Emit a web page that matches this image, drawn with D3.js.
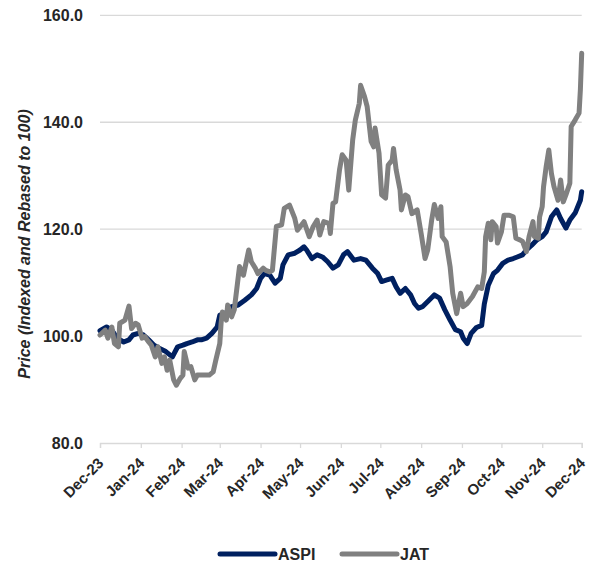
<!DOCTYPE html>
<html><head><meta charset="utf-8">
<script src="https://cdn.jsdelivr.net/npm/d3@7"></script>
<style>
body{margin:0;background:#fff;}
svg{display:block;font-family:"Liberation Sans",Arial,sans-serif;}
</style>
</head><body>
<svg id="c" width="590" height="564"></svg>
<script>
const seriesNames = ["ASPI", "JAT"];
const seriesColors = ["#002060", "#808080"];
const yTicks = [80, 100, 120, 140, 160];
const yTitle = "Price (Indexed and Rebased to 100)";
const xStart = "2023-12-01", xEnd = "2024-12-01";

const aspiDates = ["2023-12-01","2023-12-06","2023-12-10","2023-12-14","2023-12-19","2023-12-23","2023-12-26","2023-12-30",
"2024-01-03","2024-01-07","2024-01-11","2024-01-15","2024-01-20","2024-01-25","2024-01-29",
"2024-02-02","2024-02-05","2024-02-09","2024-02-13","2024-02-16","2024-02-20","2024-02-24","2024-02-28",
"2024-03-01","2024-03-05","2024-03-10","2024-03-15","2024-03-20","2024-03-25","2024-03-29",
"2024-04-01","2024-04-04","2024-04-08","2024-04-12","2024-04-16","2024-04-18","2024-04-22","2024-04-27",
"2024-05-01","2024-05-04","2024-05-06","2024-05-10","2024-05-14","2024-05-18","2024-05-22","2024-05-26","2024-05-30",
"2024-06-03","2024-06-06","2024-06-11","2024-06-16","2024-06-20","2024-06-25","2024-06-29",
"2024-07-02","2024-07-06","2024-07-10","2024-07-13","2024-07-16","2024-07-20","2024-07-24","2024-07-27","2024-07-30",
"2024-08-02","2024-08-07","2024-08-11","2024-08-15","2024-08-19","2024-08-23","2024-08-27","2024-08-31",
"2024-09-02","2024-09-05","2024-09-08","2024-09-12","2024-09-16","2024-09-18","2024-09-21","2024-09-25","2024-09-28",
"2024-10-02","2024-10-06","2024-10-10","2024-10-13","2024-10-17","2024-10-20","2024-10-24","2024-10-28",
"2024-11-01","2024-11-04","2024-11-08","2024-11-12","2024-11-15","2024-11-19","2024-11-22","2024-11-26","2024-11-30","2024-12-01"];
const aspiValues = [101.0,101.7,101.1,99.6,98.9,99.3,100.2,100.5,
100.2,99.3,98.3,97.7,97.1,96.1,98.0,
98.3,98.6,98.9,99.3,99.3,99.6,100.5,101.7,
103.9,104.2,105.5,105.8,106.7,107.7,108.9,
110.8,111.7,111.4,109.9,110.8,113.3,115.2,115.5,
116.1,116.7,116.1,114.5,115.2,114.8,113.9,112.7,113.3,
115.2,115.8,114.2,114.5,114.2,112.7,111.7,
110.2,110.5,110.8,109.2,108.0,108.9,107.7,106.1,105.2,
105.5,106.7,107.7,107.1,104.9,103.0,101.2,100.8,
99.6,98.6,100.5,101.6,102.0,106.0,109.5,111.7,112.3,
113.6,114.2,114.5,114.8,115.2,116.1,117.0,118.0,
118.6,119.5,122.3,123.6,122.0,120.2,121.7,123.0,125.4,127.0];

const jatDates = ["2023-12-01","2023-12-05","2023-12-07","2023-12-10","2023-12-12","2023-12-15","2023-12-16","2023-12-20","2023-12-23","2023-12-25","2023-12-28","2023-12-30",
"2024-01-02","2024-01-04","2024-01-07","2024-01-09","2024-01-12","2024-01-14","2024-01-17","2024-01-19","2024-01-21","2024-01-23","2024-01-26","2024-01-28","2024-01-31",
"2024-02-02","2024-02-03","2024-02-06","2024-02-08","2024-02-11","2024-02-13","2024-02-18","2024-02-22","2024-02-25","2024-02-27",
"2024-03-01","2024-03-02","2024-03-03","2024-03-06","2024-03-07","2024-03-10","2024-03-12","2024-03-16","2024-03-19","2024-03-23","2024-03-25","2024-03-28","2024-03-30",
"2024-04-03","2024-04-05","2024-04-08","2024-04-10","2024-04-13","2024-04-17","2024-04-19","2024-04-23","2024-04-27","2024-04-29",
"2024-05-04","2024-05-08","2024-05-11","2024-05-14","2024-05-16","2024-05-19","2024-05-23","2024-05-24","2024-05-26","2024-05-28","2024-05-31",
"2024-06-02","2024-06-05","2024-06-07","2024-06-10","2024-06-12","2024-06-15","2024-06-16","2024-06-19","2024-06-21","2024-06-24","2024-06-26","2024-06-27","2024-06-30",
"2024-07-02","2024-07-05","2024-07-07","2024-07-10","2024-07-11","2024-07-13","2024-07-16","2024-07-17","2024-07-20","2024-07-22","2024-07-25","2024-07-29",
"2024-08-01","2024-08-04","2024-08-06","2024-08-09","2024-08-11","2024-08-14","2024-08-16","2024-08-17","2024-08-20","2024-08-23","2024-08-24","2024-08-25","2024-08-28","2024-08-31",
"2024-09-02","2024-09-05","2024-09-09","2024-09-13","2024-09-16","2024-09-18","2024-09-19","2024-09-21","2024-09-23","2024-09-24","2024-09-27","2024-09-28",
"2024-10-01","2024-10-03","2024-10-07","2024-10-10","2024-10-12","2024-10-15","2024-10-17","2024-10-20","2024-10-22","2024-10-25","2024-10-26","2024-10-29","2024-10-30",
"2024-11-01","2024-11-02","2024-11-04","2024-11-06","2024-11-08","2024-11-10","2024-11-13","2024-11-15","2024-11-17","2024-11-19","2024-11-22","2024-11-23","2024-11-26","2024-11-29","2024-11-30","2024-12-01"];
const jatValues = [100.2,101.1,99.6,101.7,98.6,98.0,102.4,103.0,105.6,101.4,102.4,102.1,
99.6,99.9,98.9,98.3,96.1,98.0,94.9,96.1,93.6,95.5,91.8,90.8,92.1,
92.7,97.1,94.0,94.3,91.8,92.7,92.7,92.7,93.3,95.5,
98.6,102.4,104.5,103.0,105.8,103.6,104.9,113.0,111.4,116.1,113.9,112.7,111.7,
112.7,112.3,112.0,112.3,120.5,120.8,123.9,124.5,122.0,119.8,
121.4,118.6,120.5,121.7,118.9,121.4,121.1,119.2,124.8,125.1,131.1,
133.9,132.9,127.3,136.7,140.4,143.5,146.9,144.8,142.9,136.4,135.4,138.9,134.2,
126.4,125.8,132.0,132.9,135.1,131.1,127.3,123.6,126.4,126.1,122.9,123.6,
119.2,114.5,116.1,121.7,124.6,122.0,124.2,118.6,117.6,113.0,110.5,108.0,104.2,108.0,
105.5,106.1,107.4,109.2,108.9,112.0,118.6,121.1,118.0,121.4,120.5,117.4,
119.5,122.6,122.6,122.3,118.3,118.0,117.7,115.8,118.6,121.4,118.6,118.3,122.3,
124.2,127.9,131.7,134.8,130.4,127.9,125.4,129.2,125.1,126.4,128.6,139.2,140.4,141.7,146.1,152.9];

const parse = d3.timeParse("%Y-%m-%d");
const series = [
  {name: seriesNames[0], color: seriesColors[0], pts: aspiDates.map((d,i)=>({d: parse(d), v: aspiValues[i]}))},
  {name: seriesNames[1], color: seriesColors[1], pts: jatDates.map((d,i)=>({d: parse(d), v: jatValues[i]}))}
];

const FONT = "'Liberation Sans', Arial, sans-serif";
const svg = d3.select("#c");
const mLeft = 100, mRight = 581.7, mTop = 15.3, mBottom = 443;
const x = d3.scaleTime().domain([parse(xStart), parse(xEnd)]).range([mLeft, mRight]);
const y = d3.scaleLinear().domain([80, 160]).range([mBottom, mTop]);

// gridlines
svg.append("g").selectAll("line").data(yTicks.filter(t => t > 80)).join("line")
  .attr("x1", mLeft).attr("x2", mRight)
  .attr("y1", d => y(d)).attr("y2", d => y(d))
  .attr("stroke", "#d9d9d9").attr("stroke-width", 1.3);

// y axis labels
const yAxis = d3.axisLeft(y).tickValues(yTicks).tickFormat(d3.format(".1f")).tickSize(0).tickPadding(17);
const gy = svg.append("g").attr("transform", `translate(${mLeft},0)`).call(yAxis);
gy.select(".domain").remove();
gy.selectAll("text").attr("font-family", FONT)
  .attr("font-size", 16).attr("font-weight", "bold").attr("fill", "#262626");

// x axis
const xAxis = d3.axisBottom(x).ticks(d3.timeMonth.every(1)).tickFormat(d3.timeFormat("%b-%y")).tickSize(5).tickPadding(4);
const gx = svg.append("g").attr("transform", `translate(0,${mBottom})`).call(xAxis);
gx.select(".domain").attr("stroke", "#d9d9d9").attr("stroke-width", 1.3);
gx.selectAll(".tick line").attr("stroke", "#d9d9d9").attr("stroke-width", 1.3);
gx.selectAll("text")
  .attr("font-family", FONT)
  .attr("font-size", 15).attr("font-weight", "bold").attr("fill", "#262626")
  .attr("text-anchor", "end").attr("dy", null).attr("y", null)
  .attr("transform", "translate(4,21) rotate(-45)");

// y title
svg.append("text")
  .attr("transform", `translate(30,244) rotate(-90)`)
  .attr("text-anchor", "middle")
  .attr("font-family", FONT)
  .attr("font-size", 16).attr("font-weight", "bold").attr("font-style", "italic").attr("fill", "#262626")
  .text(yTitle);

// lines
const line = d3.line().x(p => x(p.d)).y(p => y(p.v)).curve(d3.curveLinear);
svg.append("g").selectAll("path").data(series).join("path")
  .attr("d", s => line(s.pts))
  .attr("fill", "none").attr("stroke", s => s.color)
  .attr("stroke-width", 5).attr("stroke-linejoin", "round").attr("stroke-linecap", "round");

// legend
const legendX = [220, 342];
const lg = svg.append("g").selectAll("g").data(series).join("g")
  .attr("transform", (s, i) => `translate(${legendX[i]},554)`);
lg.append("line").attr("x1", 0).attr("x2", 55).attr("y1", 0).attr("y2", 0)
  .attr("stroke", s => s.color).attr("stroke-width", 5).attr("stroke-linecap", "round");
lg.append("text").attr("x", 58).attr("y", 6)
  .attr("font-family", FONT)
  .attr("font-size", 16).attr("font-weight", "bold").attr("fill", "#262626")
  .text(s => s.name);
</script>
</body></html>
